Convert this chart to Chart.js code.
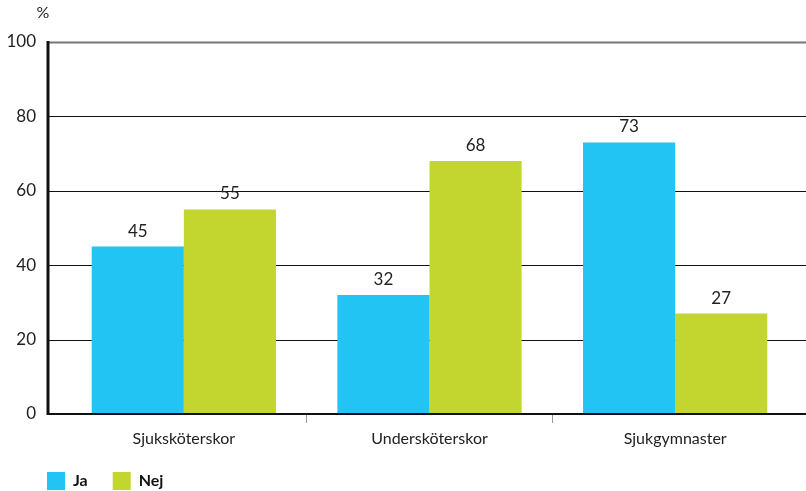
<!DOCTYPE html>
<html>
<head>
<meta charset="utf-8">
<title>Ja / Nej per yrkesgrupp</title>
<script src="https://cdn.jsdelivr.net/npm/chart.js@4/dist/chart.umd.min.js"></script>
<style>
    body { margin: 0; background: #fff; }
    #wrap { width: 806px; height: 491px; position: relative; }
</style>
</head>
<body>
<div id="wrap"><canvas id="chart"></canvas></div>
<script>
// Chart data
const categories = ['Sjuksköterskor', 'Undersköterskor', 'Sjukgymnaster'];
const jaValues = [45, 32, 73];
const nejValues = [55, 68, 27];
const yTicks = [0, 20, 40, 60, 80, 100];

const FONT = 'Lato, "Open Sans", sans-serif';
const AXIS_GAP = 13; // y axis line sits a bit left of the first category

// Draws the horizontal grid lines, axis lines, "%" unit and value labels
const frame = {
    id: 'frame',
    afterLayout(chart) {
        // move the legend row under the y axis line
        const lg = chart.legend;
        lg.left = 22;
        lg.top -= 5;
        lg.bottom -= 5;
    },
    beforeDatasetsDraw(chart) {
        const { ctx, chartArea, scales: { y } } = chart;
        const axisX = chartArea.left - AXIS_GAP;
        ctx.save();
        y.ticks.forEach(t => {
            if (t.value === 0) return;
            const py = Math.round(y.getPixelForValue(t.value)) + 0.5;
            ctx.beginPath();
            ctx.strokeStyle = t.value === 100 ? '#777' : '#111';
            ctx.lineWidth = t.value === 100 ? 2 : 1;
            ctx.moveTo(axisX, py);
            ctx.lineTo(chart.width, py);
            ctx.stroke();
        });
        ctx.restore();
    },
    afterDatasetsDraw(chart) {
        const { ctx, chartArea, scales: { y } } = chart;
        const axisX = chartArea.left - AXIS_GAP;
        const y0 = y.getPixelForValue(0);
        ctx.save();
        ctx.strokeStyle = '#111';
        ctx.lineWidth = 2;
        ctx.beginPath();
        ctx.moveTo(axisX, y0);
        ctx.lineTo(chart.width, y0);
        ctx.stroke();
        ctx.lineWidth = 3;
        ctx.beginPath();
        ctx.moveTo(axisX, y.getPixelForValue(100) - 1);
        ctx.lineTo(axisX, y0 + 1);
        ctx.stroke();

        ctx.fillStyle = '#222';
        ctx.font = '16px ' + FONT;
        ctx.textAlign = 'center';
        ctx.textBaseline = 'alphabetic';
        ctx.fillText('%', axisX - 5, y.getPixelForValue(100) - 24);

        ctx.font = '17px ' + FONT;
        chart.data.datasets.forEach((ds, i) => {
            chart.getDatasetMeta(i).data.forEach((bar, j) => {
                ctx.fillText(ds.data[j], bar.x, bar.y - 10);
            });
        });
        ctx.restore();
    }
};

new Chart(document.getElementById('chart'), {
    type: 'bar',
    data: {
        labels: categories,
        datasets: [
            { label: 'Ja', data: jaValues, backgroundColor: '#21c4f3' },
            { label: 'Nej', data: nejValues, backgroundColor: '#c3d630' }
        ]
    },
    options: {
        responsive: true,
        maintainAspectRatio: false,
        animation: false,
        events: [],
        layout: { padding: { left: 0, right: 8, top: 42, bottom: -14 } },
        datasets: {
            bar: { categoryPercentage: 0.75, barPercentage: 1.0 }
        },
        plugins: {
            legend: {
                position: 'bottom',
                align: 'start',
                labels: {
                    boxWidth: 18,
                    boxHeight: 18,
                    padding: 25,
                    color: '#111',
                    font: { family: FONT, size: 16, weight: 'bold' }
                }
            },
            tooltip: { enabled: false }
        },
        scales: {
            x: {
                border: { display: false },
                grid: {
                    offset: true,
                    drawOnChartArea: false,
                    tickLength: 9,
                    color: ctx => (ctx.index === 1 || ctx.index === 2) ? '#999' : 'rgba(0,0,0,0)'
                },
                ticks: { color: '#222', padding: 6, font: { family: FONT, size: 16 } },
                afterFit: scale => { scale.height = 38; }
            },
            y: {
                min: 0,
                max: 100,
                border: { display: false },
                grid: { display: false, drawTicks: false },
                afterBuildTicks: scale => { scale.ticks = yTicks.map(v => ({ value: v })); },
                ticks: { color: '#222', padding: 25, font: { family: FONT, size: 17 } },
                afterFit: scale => { scale.width = 61; }
            }
        }
    },
    plugins: [frame]
});
</script>
</body>
</html>
